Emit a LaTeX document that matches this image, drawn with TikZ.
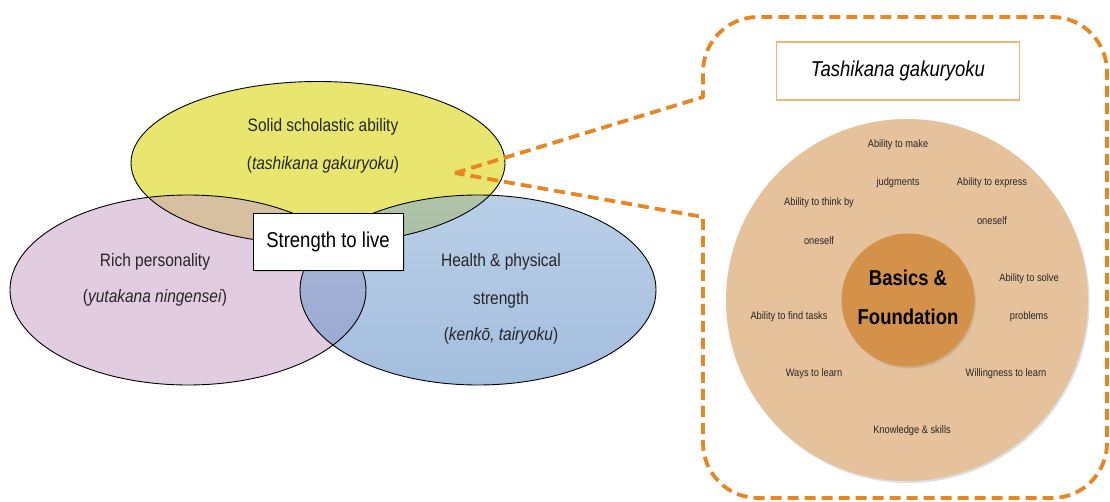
\documentclass[tikz,border=0pt]{standalone}
\usepackage{fontspec}
\setmainfont[FakeStretch=0.86]{Liberation Sans}
\usetikzlibrary{shapes.geometric,shadows}
\definecolor{yelc}{RGB}{232,230,110}
\definecolor{pinkc}{RGB}{203,164,200}
\definecolor{bluetop}{RGB}{132,170,214}
\definecolor{bluebot}{RGB}{92,138,196}
\definecolor{dashorange}{RGB}{232,134,36}
\definecolor{titleorange}{RGB}{244,180,120}
\definecolor{outerc}{RGB}{230,194,156}
\definecolor{innerc}{RGB}{212,145,74}
\begin{document}
\begin{tikzpicture}[x=1pt,y=-1pt,
  venn/.style={ellipse,inner sep=0pt},
  vennline/.style={ellipse,inner sep=0pt,draw=black,line width=0.9pt},
  vlabel/.style={font=\fontsize{18}{21}\selectfont,text=black!85},
  small/.style={font=\fontsize{10.8}{13}\selectfont,text=black!85},
  callout/.style={draw=dashorange,line width=3.8pt,dash pattern=on 11pt off 6pt,line join=round},
  softshadow/.style={drop shadow={opacity=0.25,shadow xshift=1.5pt,shadow yshift=-2pt}}]
\useasboundingbox (0,0) rectangle (1110,502);

% Venn fills
\node[venn,fill=yelc,minimum width=374pt,minimum height=163pt] (yel) at (318,163) {};
\node[venn,fill=pinkc,fill opacity=0.56,minimum width=356pt,minimum height=190pt] (pink) at (188,290) {};
\node[venn,top color=bluetop,bottom color=bluebot,fill opacity=0.56,minimum width=356pt,minimum height=190pt] (blue) at (478,290) {};
% Venn borders
\node[vennline,minimum width=374pt,minimum height=163pt] (yelb) at (yel) {};
\node[vennline,minimum width=356pt,minimum height=190pt] (pinkb) at (pink) {};
\node[vennline,minimum width=356pt,minimum height=190pt] (blueb) at (blue) {};

% Venn labels
\node[vlabel] (y1) at (323,127) {Solid scholastic ability};
\node[vlabel] (y2) at (323,165) {(\textit{tashikana gakuryoku})};
\node[vlabel] (p1) at (155,262) {Rich personality};
\node[vlabel] (p2) at (155,298) {(\textit{yutakana ningensei})};
\node[vlabel] (b1) at (501,262) {Health \& physical};
\node[vlabel] (b2) at (501,300) {strength};
\node[vlabel] (b3) at (501,336) {(\textit{kenkō, tairyoku})};

\node[draw=black,line width=1pt,fill=white,minimum width=150pt,minimum height=57pt,
      font=\fontsize{21.5}{24}\selectfont,softshadow] (live) at (328,242) {Strength to live};

% Callout
\coordinate (tip) at (455,173);
\coordinate (ptop) at (703,97);
\coordinate (pbot) at (703,217);
\draw[callout] (tip) -- (ptop) -- (703,72) arc[start angle=180,end angle=90,radius=55pt]
  -- (1052,17) arc[start angle=90,end angle=0,radius=55pt]
  -- (1107,443) arc[start angle=0,end angle=-90,radius=55pt]
  -- (758,498) arc[start angle=270,end angle=180,radius=55pt]
  -- (pbot) -- cycle;

% Right panel
\node[draw=titleorange,line width=1.3pt,fill=white,minimum width=243pt,minimum height=58pt,
      font=\fontsize{21.5}{24}\selectfont\itshape] (title) at (898,71) {Tashikana gakuryoku};

\node[circle,fill=outerc,minimum size=362pt,inner sep=0pt,softshadow] (outer) at (907,300) {};
\node[circle,fill=innerc,minimum size=133pt,inner sep=0pt,softshadow] (inner) at (908,300) {};
\node[font=\fontsize{21.5}{24}\selectfont\bfseries] (basics) at (908,278) {Basics \&};
\node[font=\fontsize{21.5}{24}\selectfont\bfseries] (found) at (908,317) {Foundation};

\node[small] (l1) at (898,145) {Ability to make};
\node[small] (l2) at (898,183) {judgments};
\node[small] (l3) at (992,183) {Ability to express};
\node[small] (l4) at (992,221) {oneself};
\node[small] (l5) at (819,203) {Ability to think by};
\node[small] (l6) at (819,241) {oneself};
\node[small] (l7) at (1029,279) {Ability to solve};
\node[small] (l8) at (1029,317) {problems};
\node[small] (l9) at (789,317) {Ability to find tasks};
\node[small] (l10) at (814,374) {Ways to learn};
\node[small] (l11) at (1006,374) {Willingness to learn};
\node[small] (l12) at (912,431) {Knowledge \& skills};
\end{tikzpicture}
\end{document}
